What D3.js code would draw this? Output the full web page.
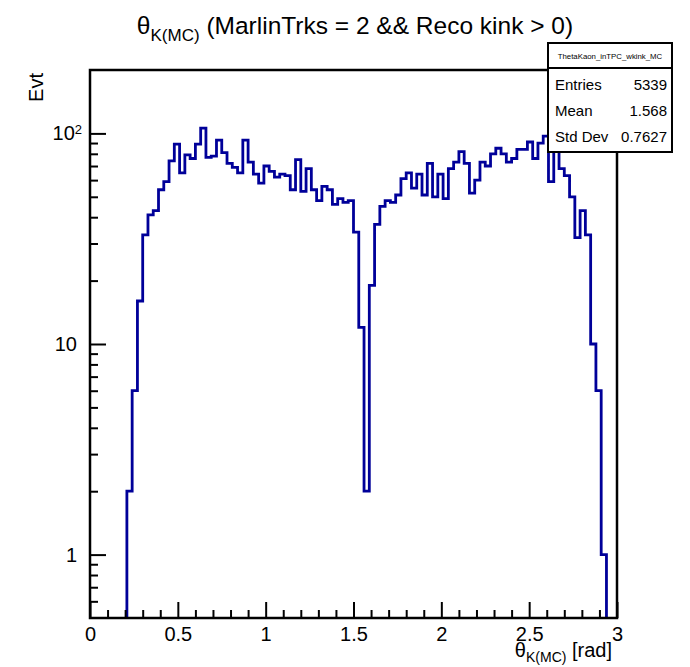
<!DOCTYPE html>
<html>
<head>
<meta charset="utf-8">
<script src="https://cdn.jsdelivr.net/npm/d3@7"></script>
<style>
  body { margin: 0; background: #fff; }
  text { font-family: "Liberation Sans", Arial, Helvetica, sans-serif; fill: #000; }
</style>
</head>
<body>
<svg width="690" height="667"></svg>
<script>
// histogram ThetaKaon_inTPC_wkink_MC : 100 bins, 0 -> 3 rad
var binLow = 0, binWidth = 0.03;
var counts = [
  0, 0, 0, 0, 0, 0, 0,
  2, 6, 16, 33, 41, 43, 54, 59,
  74, 89, 65, 79, 76, 89, 106, 77, 78, 93,
  81, 72, 69, 65, 93, 73, 64, 58, 70,
  66, 62, 64, 63, 54, 75, 53, 68, 54, 48,
  56, 54, 46, 49, 47, 48, 34, 12, 2, 19,
  37, 45, 48, 47, 51, 61, 65, 55, 64, 51,
  72, 50, 64, 49, 68, 73, 82, 72, 52, 60,
  73, 70, 80, 85, 80, 73, 76, 84, 84, 91,
  76, 90, 97, 59, 88, 68, 63, 50, 32, 43,
  33, 10, 6, 1,
  0, 0
];

var xMajor = [0, 0.5, 1, 1.5, 2, 2.5, 3];
var xTickLabels = ["0", "0.5", "1", "1.5", "2", "2.5", "3"];
var xMinor = d3.range(1, 30).map(function (i) { return i / 10; })
  .filter(function (d) { return Math.abs(d * 2 - Math.round(d * 2)) > 1e-6; });

var yMajor = [1, 10, 100];
var yTickLabels = ["1", "10", "10^2"];
var yMinor = [0.6, 0.7, 0.8, 0.9, 2, 3, 4, 5, 6, 7, 8, 9, 20, 30, 40, 50, 60, 70, 80, 90];

var statsName = "ThetaKaon_inTPC_wkink_MC";
var statsLabels = ["Entries", "Mean", "Std Dev"];
var statsValues = ["5339", "1.568", "0.7627"];

var fLeft = 90, fRight = 617, fTop = 70, fBottom = 618;

var svg = d3.select("svg");

var x = d3.scaleLinear().domain([0, 3]).range([fLeft, fRight]);
var y = d3.scaleLog().domain([0.5, 200]).range([fBottom, fTop]);

svg.append("clipPath").attr("id", "frame")
  .append("rect")
  .attr("x", fLeft).attr("y", fTop)
  .attr("width", fRight - fLeft).attr("height", fBottom - fTop);

// step outline of the histogram
var pts = counts.map(function (c, i) { return [binLow + i * binWidth, c]; });
pts.push([binLow + counts.length * binWidth, counts[counts.length - 1]]);

var line = d3.line()
  .x(function (d) { return x(d[0]); })
  .y(function (d) { return d[1] > 0 ? y(d[1]) : fBottom + 20; })
  .curve(d3.curveStepAfter);

svg.append("path")
  .datum(pts)
  .attr("clip-path", "url(#frame)")
  .attr("fill", "none")
  .attr("stroke", "#000099")
  .attr("stroke-width", 2.8)
  .attr("d", line);

// axes (ticks pointing inside the frame)
function styleAxis(g) {
  g.select(".domain").remove();
  g.selectAll(".tick line").attr("stroke", "#000").attr("stroke-width", 2);
  g.selectAll(".tick text").attr("font-size", 20).attr("fill", "#000")
    .attr("font-family", "Liberation Sans, Arial, sans-serif");
}

svg.append("g")
  .attr("transform", "translate(0," + fBottom + ")")
  .call(d3.axisBottom(x).tickValues(xMajor).tickSize(-16).tickPadding(9)
    .tickFormat(function (d, i) { return xTickLabels[i]; }))
  .call(styleAxis);

svg.append("g")
  .attr("transform", "translate(0," + fBottom + ")")
  .call(d3.axisBottom(x).tickValues(xMinor).tickSize(-8).tickFormat(""))
  .call(styleAxis);

var yAxisG = svg.append("g")
  .attr("transform", "translate(" + fLeft + ",0)")
  .call(d3.axisLeft(y).tickValues(yMajor).tickSize(-16).tickPadding(13)
    .tickFormat(function (d, i) { return yTickLabels[i].split("^")[0]; }))
  .call(styleAxis);

// exponent for 10^2
yAxisG.selectAll(".tick text").each(function (d, i) {
  var parts = yTickLabels[i].split("^");
  if (parts.length > 1) {
    d3.select(this).attr("x", -8)
      .append("tspan").attr("dy", "-0.45em").attr("font-size", 13).text(parts[1]);
  }
});

svg.append("g")
  .attr("transform", "translate(" + fLeft + ",0)")
  .call(d3.axisLeft(y).tickValues(yMinor).tickSize(-8).tickFormat(""))
  .call(styleAxis);

// frame
svg.append("rect")
  .attr("x", fLeft).attr("y", fTop)
  .attr("width", fRight - fLeft).attr("height", fBottom - fTop)
  .attr("fill", "none").attr("stroke", "#000").attr("stroke-width", 2.5);

// title
var title = svg.append("text")
  .attr("x", 355).attr("y", 34)
  .attr("text-anchor", "middle")
  .attr("font-size", 24.5);
title.append("tspan").text("θ");
title.append("tspan").attr("font-size", 17).attr("dy", 7).text("K(MC)");
title.append("tspan").attr("dy", -7).text(" (MarlinTrks = 2 && Reco kink > 0)");

// x axis title
var xTitle = svg.append("text")
  .attr("x", 612).attr("y", 657)
  .attr("text-anchor", "end")
  .attr("font-size", 20);
xTitle.append("tspan").text("θ");
xTitle.append("tspan").attr("font-size", 14).attr("dy", 5).text("K(MC)");
xTitle.append("tspan").attr("dy", -5).text(" [rad]");

// y axis title
svg.append("text")
  .attr("transform", "translate(43," + (fTop + 3) + ") rotate(-90)")
  .attr("text-anchor", "end")
  .attr("font-size", 20)
  .text("Evt");

// stats box
var sx = 548, sy = 43, sw = 124, sh = 109;
var stats = svg.append("g");
stats.append("rect")
  .attr("x", sx).attr("y", sy).attr("width", sw).attr("height", sh)
  .attr("fill", "#fff").attr("stroke", "#000").attr("stroke-width", 2);
stats.append("line")
  .attr("x1", sx).attr("x2", sx + sw).attr("y1", sy + 25).attr("y2", sy + 25)
  .attr("stroke", "#000").attr("stroke-width", 2);
stats.append("text")
  .attr("x", sx + sw / 2).attr("y", sy + 16)
  .attr("text-anchor", "middle").attr("font-size", 7.8)
  .text(statsName);
statsLabels.forEach(function (lab, i) {
  var yy = sy + 47 + i * 26;
  stats.append("text").attr("x", sx + 7).attr("y", yy)
    .attr("font-size", 15).text(lab);
  stats.append("text").attr("x", sx + sw - 5).attr("y", yy)
    .attr("text-anchor", "end").attr("font-size", 15).text(statsValues[i]);
});
</script>
</body>
</html>
